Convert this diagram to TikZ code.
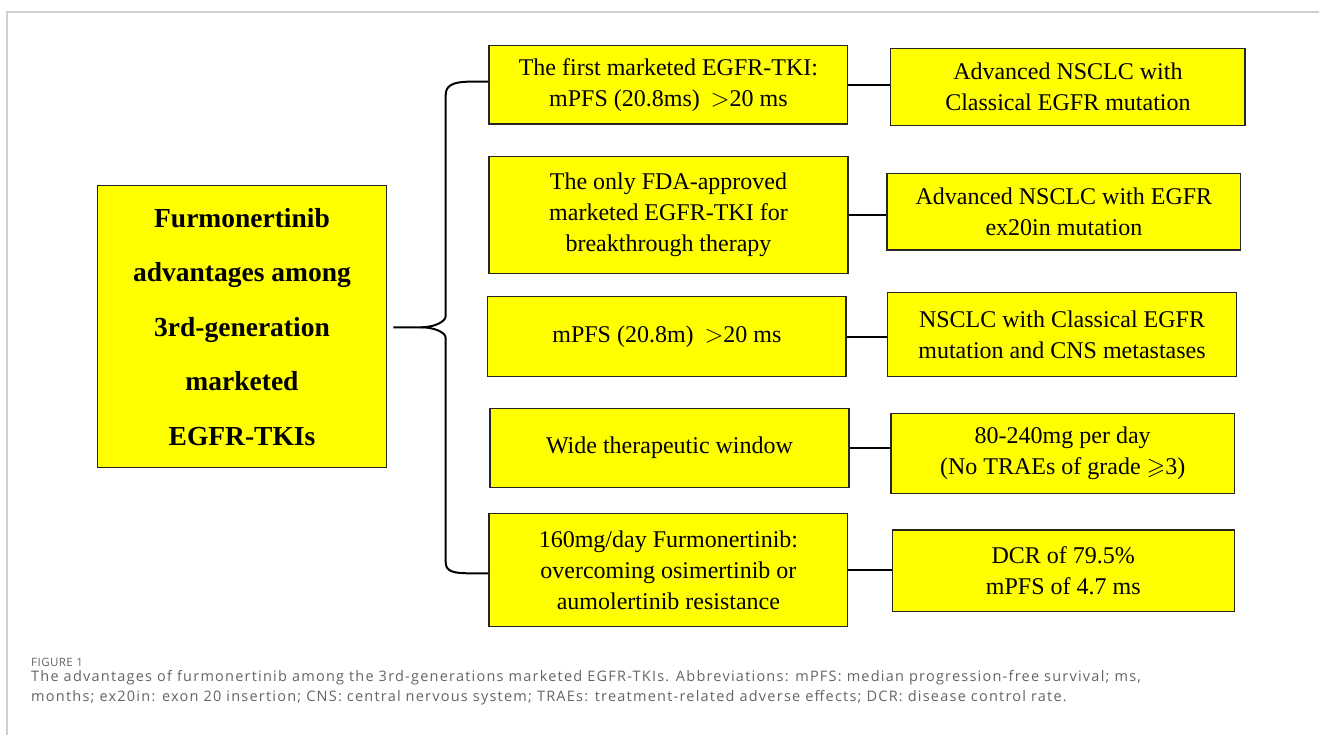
\documentclass[tikz,border=0pt]{standalone}
\usepackage{amssymb}
\usepackage{fontspec}
\usetikzlibrary{calc}
\setmainfont{Liberation Serif}
\newfontfamily\capfont[LetterSpace=8.5]{Open Sans}
\newfontfamily\figfont[LetterSpace=4]{Open Sans}
\definecolor{boxyellow}{RGB}{255,255,0}
\definecolor{capgray}{RGB}{100,100,100}
\definecolor{framegray}{RGB}{208,208,208}
\begin{document}
\begin{tikzpicture}[x=1pt,y=-1pt,
  ybox/.style={draw=black!85, line width=1.3pt, fill=boxyellow, inner sep=0pt,
    align=center, font=\fontsize{24}{31}\selectfont},
  mainbox/.style={ybox, font=\fontsize{27.5}{54.5}\selectfont\bfseries},
  link/.style={draw=black, line width=2pt},
  captext/.style={anchor=base west, inner sep=0pt, text=capgray}]
\useasboundingbox (0,0) rectangle (1319,735);
\draw[framegray, line width=1.2pt] (7,735) -- (7,12) -- (1319,12);

\node[mainbox, minimum width=289.5pt, minimum height=282pt] (main) at (242,326.8)
  {Furmonertinib\\advantages among\\3rd-generation\\marketed\\EGFR-TKIs};

\node[ybox, minimum width=358.7pt, minimum height=78.3pt] (b1) at (668.4,84.9)
  {The first marketed EGFR-TKI:\\mPFS (20.8ms)\hspace{0.45em}$>$20 ms};
\node[ybox, minimum width=359pt, minimum height=116.6pt] (b2) at (668.5,215)
  {The only FDA-approved\\marketed EGFR-TKI for\\breakthrough therapy};
\node[ybox, minimum width=358.3pt, minimum height=79.6pt] (b3) at (666.9,336.5)
  {mPFS (20.8m)\hspace{0.45em}$>$20 ms};
\node[ybox, minimum width=359pt, minimum height=79.4pt] (b4) at (669.5,448)
  {Wide therapeutic window};
\node[ybox, minimum width=358.7pt, minimum height=113.4pt] (b5) at (668.4,570)
  {160mg/day Furmonertinib:\\overcoming osimertinib or\\aumolertinib resistance};

\node[ybox, minimum width=354.3pt, minimum height=77.4pt] (r1) at (1067.9,87)
  {Advanced NSCLC with\\Classical EGFR mutation};
\node[ybox, minimum width=353.7pt, minimum height=76.7pt] (r2) at (1063.9,211.7)
  {Advanced NSCLC with EGFR\\ex20in mutation};
\node[ybox, minimum width=349.4pt, minimum height=83.6pt] (r3) at (1062,334.5)
  {NSCLC with Classical EGFR\\mutation and CNS metastases};
\node[ybox, minimum width=343.3pt, minimum height=80pt] (r4) at (1062.7,453.3)
  {80-240mg per day\\(No TRAEs of grade $\geqslant$3)};
\node[ybox, minimum width=342pt, minimum height=81.7pt] (r5) at (1063.3,570.9)
  {DCR of 79.5\%\\mPFS of 4.7 ms};

\foreach \i in {1,...,5} {
  \draw[link] (b\i.east) -- (b\i.east -| r\i.west);
}

% brace
\coordinate (tip) at ($(main.east)+(6,0.5)$);
\coordinate (top) at ($(b1.west)+(0,-3.2)$);
\coordinate (bot) at ($(b5.west)+(0,3.3)$);
\draw[link] (tip) -- ++(28,0)
  .. controls +(12,0) and +(0,6) .. (445.7,316)
  -- (445.7,95)
  .. controls (445.7,86) and (452,81.7) .. (470,81.7)
  -- (top);
\draw[link] (tip) ++(28,0)
  .. controls +(12,0) and +(0,-6) .. (445.7,338)
  -- (445.7,562)
  .. controls (445.7,571) and (452,573.3) .. (470,573.3)
  -- (bot);

\node[captext, font=\figfont\fontsize{11.5}{13}\selectfont] (fig) at (31,666.7) {FIGURE 1};
\node[captext, font=\capfont\fontsize{14.5}{20}\selectfont] (cap1) at (31,681.7)
  {The advantages of furmonertinib among the 3rd-generations marketed EGFR-TKIs. Abbreviations: mPFS: median progression-free survival; ms,};
\node[captext, font=\capfont\fontsize{14.5}{20}\selectfont] (cap2) at (31,701.7)
  {months; ex20in: exon 20 insertion; CNS: central nervous system; TRAEs: treatment-related adverse effects; DCR: disease control rate.};
\end{tikzpicture}
\end{document}
